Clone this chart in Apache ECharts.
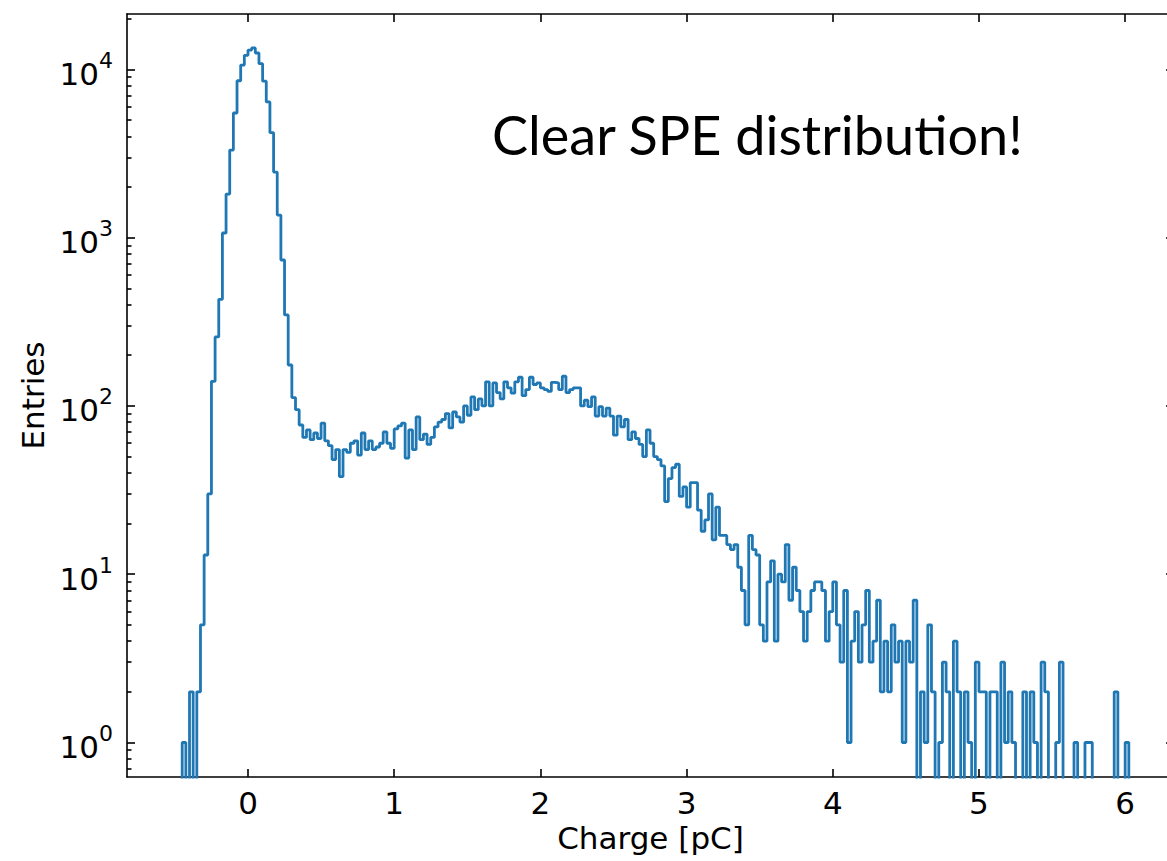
<!DOCTYPE html>
<html><head><meta charset="utf-8">
<script src="https://cdn.jsdelivr.net/npm/echarts@6/dist/echarts.min.js"></script>
<style>html,body{margin:0;padding:0;background:#fff}#c{width:1167px;height:861px}
#c text{font-variant-ligatures:none;font-feature-settings:"liga" 0,"clig" 0}</style>
</head><body><div id="c"></div>
<script>
// Histogram: bin left edges start at binStart, each binWidth wide (pC)
const binStart = -0.45;
const binWidth = 0.025;
const counts = [
  // -0.45 .. 0.375
  1,0,2,0,2,5,13,30,140,257,430,1065,1815,3310,5500,8550,10600,12100,13000,13400,
  12500,10800,8500,6400,4200,2450,1360,736,347,175,112,95,77,65,
  // 0.4 .. 0.975
  72,63,69,64,79,62,58,48,55,38,55,53,60,62,51,69,55,62,55,57,60,70,60,56,
  // 1.0 .. 1.475
  73,76,79,49,72,55,86,63,68,59,65,75,80,83,90,74,92,86,80,100,
  // 1.5 .. 1.975
  88,113,95,110,100,139,100,137,120,110,139,128,119,139,148,115,125,148,134,137,
  // 2.0 .. 2.475
  128,125,122,138,137,125,150,120,125,128,128,100,108,99,113,87,99,87,97,87,
  // 2.5 .. 2.975
  67,87,75,83,63,70,64,59,50,72,60,50,48,44,27,37,43,45,29,33,
  // 3.0 .. 3.475
  25,35,35,24,18,21,30,16,25,17,17,15,14,15,11,8,5,17,14,13,
  // 3.5 .. 3.975
  5,4,9,12,4,10,9,15,7,11,8,6,4,6,8,9,9,8,4,6,
  // 4.0 .. 4.475
  9,5,3,8,1,4,6,3,5,8,3,4,7,2,4,2,5,3,4,1,
  // 4.5 .. 4.975
  4,3,7,0,2,1,5,2,0,1,3,2,0,4,2,0,2,1,0,3,
  // 5.0 .. 5.475
  2,2,0,2,2,0,3,1,2,1,0,0,2,0,2,1,0,3,2,0,
  // 5.5 .. 6.0
  0,1,3,0,0,0,1,0,0,1,1,0,0,0,0,0,0,2,0,0,1
];
const xTicks = [0, 1, 2, 3, 4, 5, 6];
const yTicks = [1, 10, 100, 1000, 10000];
const yTickExponents = ['0', '1', '2', '3', '4'];
const yMinorTicks = [0.7,0.8,0.9, 2,3,4,5,6,7,8,9, 20,30,40,50,60,70,80,90,
  200,300,400,500,600,700,800,900, 2000,3000,4000,5000,6000,7000,8000,9000, 20000];
const xMin = -0.8276, xMax = 6.334;
const yMin = 0.6237, yMax = 21310;
const xTitle = 'Charge [pC]';
const yTitle = 'Entries';
const annotation = 'Clear SPE distribution!';

// empty bins sit below the visible log range (clipped), like matplotlib
const FLOOR = 0.2;
const pts = [[binStart, FLOOR]];
counts.forEach((c, i) => pts.push([binStart + i * binWidth, c > 0 ? c : FLOOR]));
const lastEdge = binStart + counts.length * binWidth;
const lastC = counts[counts.length - 1];
pts.push([lastEdge, lastC > 0 ? lastC : FLOOR]);
pts.push([lastEdge, FLOOR]);

const black = '#000';
const font = 'DejaVu Sans';
const spine = {show: true, onZero: false, lineStyle: {color: black, width: 1.6}};
const tickStyle = {color: black, width: 1.6};

const chart = echarts.init(document.getElementById('c'), null, {renderer: 'svg'});
chart.setOption({
  animation: false,
  backgroundColor: '#fff',
  grid: {left: 127, top: 14, width: 1047, height: 763, containLabel: false, outerBoundsMode: 'none'},
  xAxis: [
    {
      type: 'value', position: 'bottom', min: xMin, max: xMax,
      axisLine: spine,
      axisTick: {show: true, inside: true, length: 8, lineStyle: tickStyle, customValues: xTicks},
      axisLabel: {show: true, customValues: xTicks, fontFamily: font, fontSize: 31, color: black, margin: 10},
      splitLine: {show: false},
      name: xTitle, nameLocation: 'middle', nameGap: 44,
      nameTextStyle: {fontFamily: font, fontSize: 31, color: black}
    },
    {
      type: 'value', position: 'top', min: xMin, max: xMax,
      axisLine: spine,
      axisTick: {show: true, inside: true, length: 8, lineStyle: tickStyle, customValues: xTicks},
      axisLabel: {show: false},
      splitLine: {show: false}
    }
  ],
  yAxis: [
    {
      type: 'log', logBase: 10, position: 'left', min: yMin, max: yMax,
      axisLine: spine,
      axisTick: {show: true, inside: true, length: 8, lineStyle: tickStyle, customValues: yTicks},
      axisLabel: {
        show: true, customValues: yTicks, margin: 14, color: black,
        formatter: v => '{b|10}{s|' + yTickExponents[yTicks.indexOf(Math.round(v))] + '}',
        rich: {
          b: {fontFamily: font, fontSize: 31, color: black, lineHeight: 40, verticalAlign: 'bottom'},
          s: {fontFamily: font, fontSize: 22, color: black, lineHeight: 22, verticalAlign: 'top'}
        }
      },
      splitLine: {show: false},
      name: yTitle, nameLocation: 'middle', nameGap: 78, nameRotate: 90,
      nameTextStyle: {fontFamily: font, fontSize: 31, color: black}
    },
    {
      type: 'log', logBase: 10, position: 'left', min: yMin, max: yMax,
      axisLine: {show: false, onZero: false},
      axisTick: {show: true, inside: true, length: 4.5, lineStyle: tickStyle, customValues: yMinorTicks},
      axisLabel: {show: false}, splitLine: {show: false}
    },
    {
      type: 'log', logBase: 10, position: 'right', min: yMin, max: yMax,
      axisLine: spine,
      axisTick: {show: true, inside: true, length: 8, lineStyle: tickStyle, customValues: yTicks},
      axisLabel: {show: false}, splitLine: {show: false}
    },
    {
      type: 'log', logBase: 10, position: 'right', min: yMin, max: yMax,
      axisLine: {show: false, onZero: false},
      axisTick: {show: true, inside: true, length: 4.5, lineStyle: tickStyle, customValues: yMinorTicks},
      axisLabel: {show: false}, splitLine: {show: false}
    }
  ],
  series: [{
    type: 'line', xAxisIndex: 0, yAxisIndex: 0,
    data: pts, step: 'end', showSymbol: false, symbol: 'none',
    clip: true, sampling: null,
    lineStyle: {color: '#1f77b4', width: 2.8},
    emphasis: {disabled: true}
  }],
  graphic: [{
    type: 'text', left: 492, top: 107, silent: true,
    style: {text: annotation, font: '54px Lato', fill: black}
  }]
});
</script></body></html>
